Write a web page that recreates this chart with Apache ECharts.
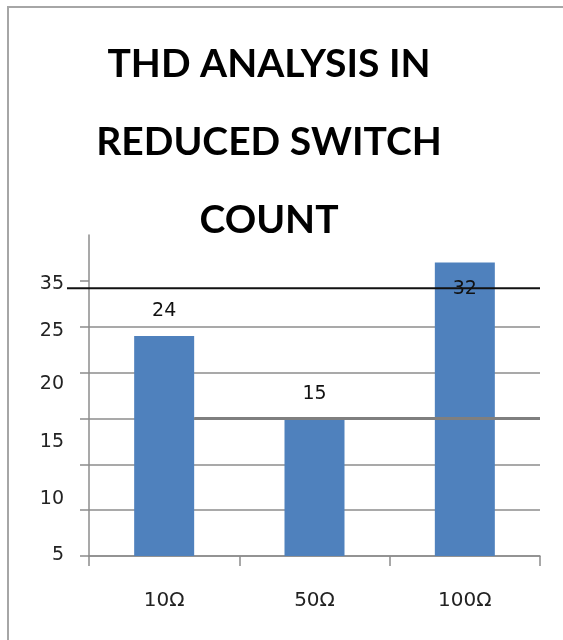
<!DOCTYPE html>
<html>
<head>
<meta charset="utf-8">
<script src="https://cdn.jsdelivr.net/npm/echarts@6/dist/echarts.min.js"></script>
<style>
  html, body { margin: 0; padding: 0; background: #fff; }
  #chart { width: 563px; height: 640px; }
</style>
</head>
<body>
<div id="chart"></div>
<script>
// Load values, one bar per resistance
const categories = ['10Ω', '50Ω', '100Ω'];
const thdValues = [24, 15, 32];

// Value-axis labels as printed, and where they sit on the scale
const yTickText = ['5', '10', '15', '20', '25', '35'];
const yTickAt = [0.1, 6.2, 12.4, 18.8, 24.5, 29.6];
const yTickMarks = [0, 5, 10, 15, 20, 25, 30];

// Reference levels drawn across the plot
const refLevel = 29.2;
const emphasisLevel = 15;

const titleLines = ['THD ANALYSIS IN', 'REDUCED SWITCH', 'COUNT'];

const GRID = { left: 89, right: 23, top: 235, bottom: 84 };
const BAR_W = 60;
const FONT = "'DejaVu Sans', Verdana, sans-serif";

const chart = echarts.init(document.getElementById('chart'), null, { renderer: 'canvas' });

const option = {
  animation: false,
  backgroundColor: '#ffffff',
  title: {
    text: titleLines.join('\n'),
    left: 264,
    top: 20,
    textAlign: 'center',
    textStyle: {
      fontFamily: 'Lato, sans-serif',
      fontWeight: 'bold',
      fontSize: 39,
      lineHeight: 78,
      color: '#000'
    }
  },
  grid: GRID,
  xAxis: {
    type: 'category',
    data: categories,
    axisLine: { lineStyle: { color: '#8c8c8c', width: 1.5 } },
    axisTick: { show: true, length: 10, alignWithLabel: false, lineStyle: { color: '#8c8c8c', width: 1.5 } },
    axisLabel: { margin: 35, fontFamily: FONT, fontSize: 20, color: '#222' },
    splitLine: { show: false }
  },
  yAxis: {
    type: 'value',
    min: 0,
    max: 35,
    interval: 5,
    axisLine: { show: true, lineStyle: { color: '#8c8c8c', width: 1.5 } },
    axisTick: { show: true, length: 9, customValues: yTickMarks, lineStyle: { color: '#8c8c8c', width: 1.5 } },
    axisLabel: {
      customValues: yTickAt,
      margin: 25,
      fontFamily: FONT,
      fontSize: 19,
      color: '#222',
      formatter: function (v) {
        const i = yTickAt.indexOf(v);
        return i >= 0 ? yTickText[i] : '';
      }
    },
    splitLine: { show: true, showMaxLine: false, lineStyle: { color: '#8c8c8c', width: 1.5 } }
  },
  series: [{
    type: 'bar',
    data: thdValues.map(function (v, i) {
      const inside = i === thdValues.length - 1;
      return {
        value: v,
        label: inside ? { position: 'insideTop', distance: 17 } : { position: 'top', distance: 15 }
      };
    }),
    barWidth: BAR_W,
    itemStyle: { color: '#4f81bd' },
    label: {
      show: true,
      fontFamily: FONT,
      fontSize: 19,
      color: '#111'
    }
  }]
};

chart.setOption(option);

// Annotation lines and the outer frame, placed through the axes' scales
const plotRight = 563 - GRID.right;
const yRef = chart.convertToPixel({ yAxisIndex: 0 }, refLevel);
const yEmph = chart.convertToPixel({ yAxisIndex: 0 }, emphasisLevel);
const firstBarRight = chart.convertToPixel({ xAxisIndex: 0 }, categories[0]) + BAR_W / 2;

chart.setOption({
  graphic: [
    {
      type: 'rect',
      shape: { x: 8, y: 7, width: 700, height: 800 },
      style: { fill: 'none', stroke: '#a6a6a6', lineWidth: 2 },
      silent: true
    },
    {
      type: 'line',
      shape: { x1: firstBarRight, y1: yEmph, x2: plotRight, y2: yEmph },
      style: { stroke: '#7f7f7f', lineWidth: 3 },
      z: 5,
      silent: true
    },
    {
      type: 'line',
      shape: { x1: 67, y1: yRef, x2: plotRight, y2: yRef },
      style: { stroke: '#111', lineWidth: 2 },
      z: 100,
      silent: true
    }
  ]
});
</script>
</body>
</html>
